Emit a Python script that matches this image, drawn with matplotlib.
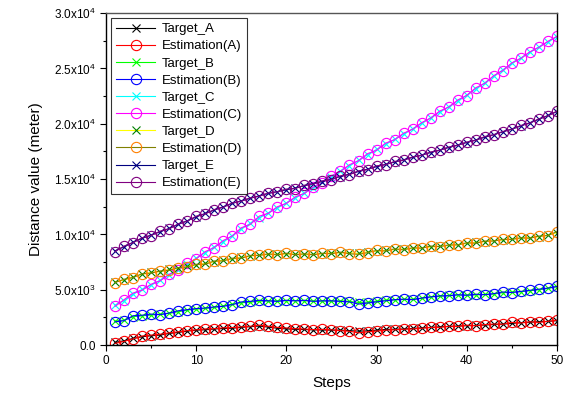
import matplotlib
matplotlib.use("Agg")
import matplotlib.pyplot as plt
from matplotlib.ticker import MultipleLocator, FuncFormatter

plt.rcParams["font.family"] = ["Liberation Sans", "DejaVu Sans"]
plt.rcParams["mathtext.fontset"] = "custom"
plt.rcParams["mathtext.rm"] = "Liberation Sans"

# Prepare Data
steps = list(range(1, 51))

target_a = [240, 390, 600, 750, 840, 900, 1050, 1140, 1260, 1350,
            1380, 1450, 1500, 1520, 1600, 1660, 1720, 1620, 1520, 1460,
            1420, 1410, 1370, 1360, 1350, 1350, 1300, 1260, 1280, 1350,
            1410, 1430, 1450, 1500, 1560, 1590, 1650, 1680, 1720, 1750,
            1770, 1810, 1860, 1900, 1960, 2020, 2070, 2110, 2140, 2200]
est_a = [150, 330, 560, 820, 900, 980, 1100, 1200, 1300, 1380,
         1460, 1480, 1560, 1580, 1650, 1700, 1800, 1700, 1600, 1550,
         1480, 1450, 1400, 1420, 1380, 1300, 1250, 1100, 1200, 1260,
         1350, 1380, 1430, 1460, 1520, 1600, 1600, 1700, 1680, 1800,
         1750, 1850, 1900, 1880, 2050, 2000, 2100, 2050, 2150, 2250]

target_b = [2170, 2260, 2560, 2650, 2710, 2800, 2860, 3010, 3160, 3250,
            3310, 3400, 3550, 3700, 3820, 3880, 3970, 3980, 4000, 4000,
            4010, 4000, 3990, 3980, 3970, 4000, 3940, 3850, 3880, 3970,
            4070, 4080, 4130, 4150, 4220, 4370, 4400, 4490, 4520, 4520,
            4530, 4580, 4610, 4730, 4790, 4820, 4910, 5000, 5120, 5270]
est_b = [2100, 2200, 2650, 2700, 2800, 2750, 2900, 3100, 3200, 3300,
         3350, 3450, 3500, 3650, 3900, 3950, 4050, 4000, 3950, 4050,
         4000, 4050, 3950, 4000, 4000, 3950, 3900, 3700, 3800, 3900,
         4000, 4100, 4150, 4100, 4250, 4350, 4450, 4450, 4550, 4500,
         4600, 4550, 4650, 4800, 4750, 4850, 4950, 5050, 5150, 5300]

target_c = [3610, 4000, 4600, 5030, 5420, 5870, 6330, 6800, 7300, 7850,
            8350, 8880, 9330, 9900, 10500, 11000, 11500, 11950, 12400, 12850,
            13300, 13750, 14200, 14700, 15200, 15750, 16200, 16700, 17200, 17680,
            18150, 18600, 19050, 19550, 20030, 20550, 21050, 21550, 22050, 22590,
            23150, 23700, 24300, 24880, 25450, 25950, 26450, 26950, 27400, 27860]
est_c = [3500, 4100, 4700, 4950, 5500, 5800, 6400, 6750, 7400, 7800,
         8450, 8800, 9450, 9850, 10600, 10900, 11650, 11900, 12500, 12800,
         13400, 13700, 14300, 14650, 15300, 15700, 16300, 16650, 17300, 17600,
         18250, 18550, 19150, 19500, 20100, 20500, 21150, 21500, 22150, 22550,
         23250, 23650, 24350, 24800, 25500, 25900, 26500, 26900, 27450, 27900]

target_d = [5720, 5870, 6170, 6390, 6570, 6630, 6840, 6930, 7140, 7230,
            7380, 7530, 7680, 7770, 7920, 8040, 8130, 8200, 8220, 8230,
            8220, 8210, 8210, 8250, 8340, 8330, 8340, 8280, 8430, 8490,
            8550, 8640, 8680, 8740, 8790, 8860, 8930, 9000, 9080, 9190,
            9270, 9350, 9430, 9500, 9580, 9650, 9720, 9790, 9950, 10150]
est_d = [5650, 5950, 6100, 6450, 6500, 6700, 6750, 7000, 7050, 7300,
         7300, 7600, 7600, 7850, 7850, 8100, 8100, 8250, 8150, 8300,
         8150, 8250, 8150, 8300, 8250, 8400, 8250, 8200, 8350, 8550,
         8500, 8700, 8600, 8800, 8750, 8950, 8900, 9050, 9050, 9250,
         9200, 9400, 9400, 9550, 9550, 9700, 9650, 9850, 9900, 10250]

target_e = [8520, 8880, 9300, 9640, 9940, 10240, 10540, 10900, 11230, 11580,
            11900, 12200, 12500, 12800, 13040, 13260, 13500, 13700, 13870, 14030,
            14200, 14400, 14600, 14780, 15000, 15230, 15450, 15680, 15900, 16120,
            16330, 16540, 16750, 16960, 17170, 17400, 17620, 17850, 18080, 18300,
            18540, 18780, 19020, 19270, 19520, 19800, 20100, 20400, 20750, 21100]
est_e = [8450, 8950, 9250, 9700, 9900, 10300, 10500, 10950, 11200, 11650,
         11850, 12250, 12450, 12850, 13000, 13300, 13450, 13750, 13850, 14100,
         14150, 14450, 14550, 14850, 14950, 15300, 15400, 15750, 15850, 16200,
         16300, 16600, 16700, 17000, 17150, 17450, 17600, 17900, 18050, 18350,
         18500, 18850, 19000, 19300, 19500, 19850, 20050, 20450, 20700, 21150]

# (label, values, line colour, marker, marker colour)
series = [
    ("Target_A", target_a, "#000000", "x", "#000000"),
    ("Estimation(A)", est_a, "#FF0000", "o", "#FF0000"),
    ("Target_B", target_b, "#00FF00", "x", "#00FF00"),
    ("Estimation(B)", est_b, "#0000FF", "o", "#0000FF"),
    ("Target_C", target_c, "#00FFFF", "x", "#00FFFF"),
    ("Estimation(C)", est_c, "#FF00FF", "o", "#FF00FF"),
    ("Target_D", target_d, "#FFFF00", "x", "#008000"),
    ("Estimation(D)", est_d, "#808000", "o", "#FF8000"),
    ("Target_E", target_e, "#000080", "x", "#000080"),
    ("Estimation(E)", est_e, "#800080", "o", "#800080"),
]

# Draw Plot
fig = plt.figure(figsize=(5.7, 3.98), dpi=100)
ax = fig.add_axes([0.186, 0.133, 0.791, 0.834])

for label, vals, lc, mk, mc in series:
    ms = 7.4 if mk == "o" else 5.4
    ax.plot(steps, vals, color=lc, lw=0.8, marker=mk, ms=ms,
            mfc="none", mec=mc, mew=0.8, label=label)

# Decorations
ax.set_xlim(0, 50)
ax.set_ylim(0, 30000)
ax.xaxis.set_major_locator(MultipleLocator(10))
ax.xaxis.set_minor_locator(MultipleLocator(5))
ax.yaxis.set_major_locator(MultipleLocator(5000))
ax.yaxis.set_minor_locator(MultipleLocator(2500))


def sci_fmt(v, pos):
    if v == 0:
        return "0.0"
    exp = len(str(int(v))) - 1
    mant = v / 10 ** exp
    return r"$\mathregular{%.1fx10^{%d}}$" % (mant, exp)


ax.yaxis.set_major_formatter(FuncFormatter(sci_fmt))
ax.tick_params(which="both", direction="out", top=False, right=False,
               labelsize=8.5, width=0.8)
ax.tick_params(which="major", length=4)
ax.tick_params(which="minor", length=2.5)

ax.set_xlabel("Steps", fontsize=11, labelpad=6)
ax.set_ylabel("Distance value (meter)", fontsize=11, labelpad=8)

ax.spines["top"].set_color("#555555")
for s in ["left", "bottom", "right"]:
    ax.spines[s].set_color("black")
for s in ax.spines.values():
    s.set_linewidth(1.0)

leg = ax.legend(loc="upper left", fontsize=9.5, frameon=True, fancybox=False,
                edgecolor="black", handlelength=3.0, handletextpad=0.5,
                borderpad=0.35, labelspacing=0.37, borderaxespad=0.4)
leg.get_frame().set_linewidth(0.8)

fig.savefig("out.png", dpi=100)
